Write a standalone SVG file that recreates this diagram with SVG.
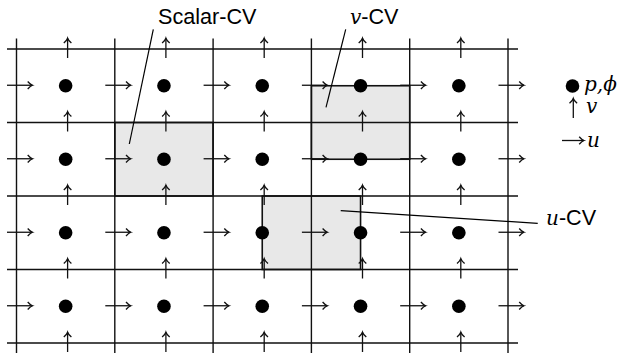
<svg xmlns="http://www.w3.org/2000/svg" width="630" height="353" viewBox="0 0 630 353">
<style>
.grid{stroke:#111;stroke-width:1.4;fill:none}
.cv{fill:#e8e8e8;stroke:#111;stroke-width:1.6}
.arr{stroke:#111;stroke-width:1.3;fill:none;marker-end:url(#head)}
.dot{fill:#000}
.lead{stroke:#000;stroke-width:1.2;fill:none}
.sans{font-family:"Liberation Sans",Arial,sans-serif;font-size:21.6px;fill:#000}
.math{font-family:"DejaVu Serif","Liberation Serif",serif;font-style:italic;font-size:20px;fill:#000}
</style>
<defs>
<marker id="head" viewBox="-6 -5 8 10" refX="0" refY="0" markerWidth="8" markerHeight="10" markerUnits="userSpaceOnUse" orient="auto" overflow="visible">
<path d="M-4.8,-3.8 Q-2,-0.6 0,0 Q-2,0.6 -4.8,3.8" fill="none" stroke="#111" stroke-width="1.3"/>
</marker>
</defs>
<g id="scalar-cv"><rect class="cv" x="114.8" y="122.5" width="98.3" height="73.5"/></g>
<g id="v-cv"><rect class="cv" x="311.4" y="85.75" width="98.3" height="73.5"/></g>
<g id="u-cv"><rect class="cv" x="262.25" y="196" width="98.3" height="73.5"/></g>
<g id="grid" class="grid">
<path d="M7,49H518M7,122.5H518M7,196H518M7,269.5H518M7,343H518"/>
<path d="M16.5,38.5V353.5M114.8,38.5V353.5M213.1,38.5V353.5M311.4,38.5V353.5M409.7,38.5V353.5M508,38.5V353.5"/>
</g>
<g id="u-arrows">
<path class="arr" d="M7,85.25H32.5"/><path class="arr" d="M105.3,85.25H130.8"/><path class="arr" d="M203.6,85.25H229.1"/><path class="arr" d="M301.9,85.25H327.4"/><path class="arr" d="M400.2,85.25H425.7"/><path class="arr" d="M498.5,85.25H524"/>
<path class="arr" d="M7,158.75H32.5"/><path class="arr" d="M105.3,158.75H130.8"/><path class="arr" d="M203.6,158.75H229.1"/><path class="arr" d="M301.9,158.75H327.4"/><path class="arr" d="M400.2,158.75H425.7"/><path class="arr" d="M498.5,158.75H524"/>
<path class="arr" d="M7,232.25H32.5"/><path class="arr" d="M105.3,232.25H130.8"/><path class="arr" d="M203.6,232.25H229.1"/><path class="arr" d="M301.9,232.25H327.4"/><path class="arr" d="M400.2,232.25H425.7"/><path class="arr" d="M498.5,232.25H524"/>
<path class="arr" d="M7,305.75H32.5"/><path class="arr" d="M105.3,305.75H130.8"/><path class="arr" d="M203.6,305.75H229.1"/><path class="arr" d="M301.9,305.75H327.4"/><path class="arr" d="M400.2,305.75H425.7"/><path class="arr" d="M498.5,305.75H524"/>
</g>
<g id="v-arrows">
<path class="arr" d="M67.6,58V38.2"/><path class="arr" d="M165.9,58V38.2"/><path class="arr" d="M264.2,58V38.2"/><path class="arr" d="M362.5,58V38.2"/><path class="arr" d="M460.8,58V38.2"/>
<path class="arr" d="M67.6,131.5V111.7"/><path class="arr" d="M165.9,131.5V111.7"/><path class="arr" d="M264.2,131.5V111.7"/><path class="arr" d="M362.5,131.5V111.7"/><path class="arr" d="M460.8,131.5V111.7"/>
<path class="arr" d="M67.6,205V185.2"/><path class="arr" d="M165.9,205V185.2"/><path class="arr" d="M264.2,205V185.2"/><path class="arr" d="M362.5,205V185.2"/><path class="arr" d="M460.8,205V185.2"/>
<path class="arr" d="M67.6,278.5V258.7"/><path class="arr" d="M165.9,278.5V258.7"/><path class="arr" d="M264.2,278.5V258.7"/><path class="arr" d="M362.5,278.5V258.7"/><path class="arr" d="M460.8,278.5V258.7"/>
<path class="arr" d="M67.6,352V332.2"/><path class="arr" d="M165.9,352V332.2"/><path class="arr" d="M264.2,352V332.2"/><path class="arr" d="M362.5,352V332.2"/><path class="arr" d="M460.8,352V332.2"/>
</g>
<g id="dots" class="dot">
<circle cx="65.65" cy="85.75" r="6.8"/><circle cx="163.95" cy="85.75" r="6.8"/><circle cx="262.25" cy="85.75" r="6.8"/><circle cx="360.55" cy="85.75" r="6.8"/><circle cx="458.85" cy="85.75" r="6.8"/>
<circle cx="65.65" cy="159.25" r="6.8"/><circle cx="163.95" cy="159.25" r="6.8"/><circle cx="262.25" cy="159.25" r="6.8"/><circle cx="360.55" cy="159.25" r="6.8"/><circle cx="458.85" cy="159.25" r="6.8"/>
<circle cx="65.65" cy="232.75" r="6.8"/><circle cx="163.95" cy="232.75" r="6.8"/><circle cx="262.25" cy="232.75" r="6.8"/><circle cx="360.55" cy="232.75" r="6.8"/><circle cx="458.85" cy="232.75" r="6.8"/>
<circle cx="65.65" cy="306.25" r="6.8"/><circle cx="163.95" cy="306.25" r="6.8"/><circle cx="262.25" cy="306.25" r="6.8"/><circle cx="360.55" cy="306.25" r="6.8"/><circle cx="458.85" cy="306.25" r="6.8"/>
</g>
<g id="connectors" class="lead">
<path d="M153.3,29.3L129.3,144"/>
<path d="M345.7,29.3L326,107.3"/>
<path d="M537.7,223.3L340.7,210.7"/>
</g>
<g id="labels">
<text class="sans" x="158" y="23.5">Scalar-CV</text>
<text x="350" y="23.5"><tspan class="math">v</tspan><tspan class="sans">-CV</tspan></text>
<text x="546" y="225"><tspan class="math">u</tspan><tspan class="sans">-CV</tspan></text>
</g>
<g id="legend">
<circle class="dot" cx="572.5" cy="86" r="6.8"/>
<text x="584" y="91"><tspan class="math">p</tspan><tspan class="math" font-style="normal">,</tspan><tspan class="math">ϕ</tspan></text>
<path class="arr" d="M573.3,118V98.5"/>
<text class="math" x="586" y="113">v</text>
<path class="arr" d="M562,140.5H584"/>
<text class="math" x="587" y="147">u</text>
</g>
</svg>
